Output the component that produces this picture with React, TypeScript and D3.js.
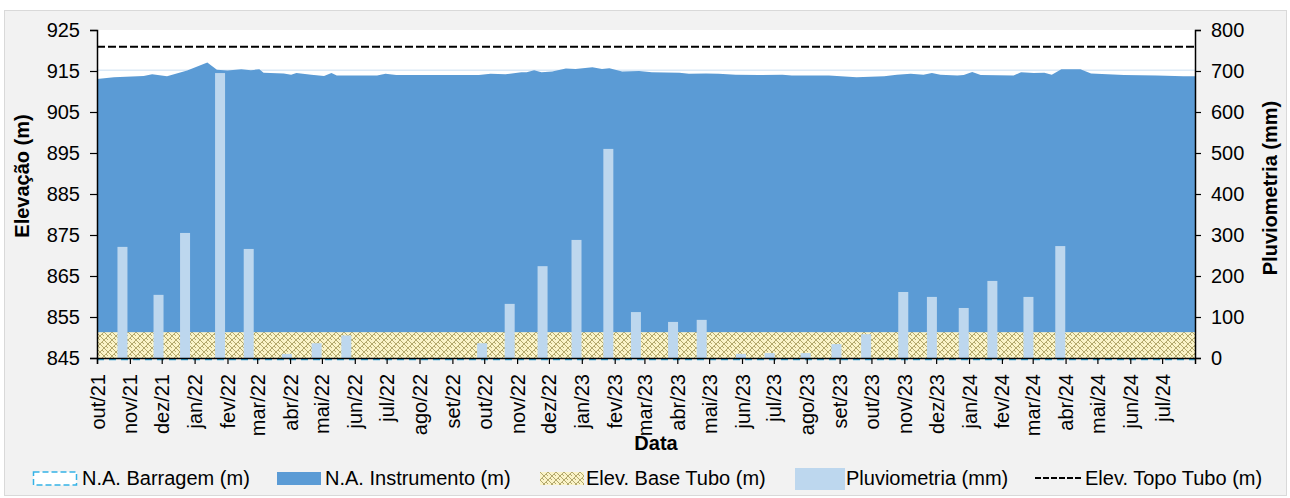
import { useEffect, useRef } from "react";
import * as d3 from "d3";

// N.A. Instrumento readings (m)
const naDates = [
  "2021-10-01", "2021-10-17", "2021-11-14", "2021-11-22", "2021-12-06", "2021-12-25",
  "2022-01-13", "2022-01-22", "2022-02-01", "2022-02-14", "2022-02-23", "2022-03-03",
  "2022-03-07", "2022-03-26", "2022-04-02", "2022-04-07", "2022-04-21", "2022-05-03",
  "2022-05-10", "2022-05-15", "2022-06-22", "2022-06-30", "2022-07-10", "2022-08-08",
  "2022-09-07", "2022-09-26", "2022-10-07", "2022-10-21", "2022-11-05", "2022-11-10",
  "2022-11-17", "2022-11-24", "2022-12-04", "2022-12-17", "2022-12-26", "2023-01-11",
  "2023-01-20", "2023-01-27", "2023-02-08", "2023-02-24", "2023-03-08", "2023-04-03",
  "2023-04-12", "2023-04-28", "2023-05-10", "2023-05-26", "2023-06-17", "2023-07-09",
  "2023-07-18", "2023-08-22", "2023-09-17", "2023-10-13", "2023-10-25", "2023-11-07",
  "2023-11-19", "2023-11-27", "2023-12-05", "2023-12-21", "2023-12-27", "2024-01-04",
  "2024-01-12", "2024-02-12", "2024-02-19", "2024-03-02", "2024-03-12", "2024-03-19",
  "2024-03-28", "2024-04-15", "2024-04-25", "2024-05-26", "2024-06-26", "2024-07-21",
  "2024-08-01",
];
const naValues = [
  913.05, 913.5, 913.8, 914.2, 913.7, 915.1,
  917.1, 915.3, 915.1, 915.4, 915.2, 915.4,
  914.6, 914.4, 914.1, 914.5, 914.1, 913.8,
  914.5, 913.9, 913.9, 914.3, 914.0, 914.0,
  914.0, 914.0, 914.3, 914.2, 914.7, 914.7,
  915.2, 914.7, 914.9, 915.6, 915.5, 915.9,
  915.5, 915.65, 914.9, 915.0, 914.7, 914.6,
  914.3, 914.4, 914.3, 914.1, 914.0, 914.1,
  913.9, 913.9, 913.5, 913.7, 914.1, 914.3,
  914.1, 914.5, 914.1, 913.9, 914.0, 914.75,
  914.0, 913.9, 914.7, 914.5, 914.6, 914.1,
  915.4, 915.4, 914.4, 914.0, 913.9, 913.7,
  913.7,
];

// Pluviometria (mm)
const rainDates = [
  "2021-10-25", "2021-11-28", "2021-12-23", "2022-01-25", "2022-02-21", "2022-03-29",
  "2022-04-26", "2022-05-24", "2022-09-29", "2022-10-25", "2022-11-25", "2022-12-27",
  "2023-01-26", "2023-02-21", "2023-03-28", "2023-04-24", "2023-05-31", "2023-06-27",
  "2023-07-31", "2023-08-29", "2023-09-26", "2023-10-31", "2023-11-27", "2023-12-27",
  "2024-01-23", "2024-02-26", "2024-03-27",
];
const rainValues = [
  271, 154, 305, 695, 266, 10,
  36, 55, 36, 132, 224, 288,
  510, 112, 88, 93, 10, 12,
  12, 34, 58, 161, 149, 122,
  188, 149, 273,
];

const naBarragem = [915.2];
const elevBaseTubo = [851.3];
const elevTopoTubo = [920.9];

const leftTicks = [845, 855, 865, 875, 885, 895, 905, 915, 925];
const rightTicks = [0, 100, 200, 300, 400, 500, 600, 700, 800];
const monthNames = ["jan", "fev", "mar", "abr", "mai", "jun", "jul", "ago", "set", "out", "nov", "dez"];

const FONT = "'Liberation Sans', Arial, sans-serif";

export default function App() {
  const svgRef = useRef<SVGSVGElement | null>(null);

  useEffect(() => {
    if (!svgRef.current) return;
    const svg = d3.select(svgRef.current);
    svg.selectAll("*").remove();

    const left = 97, right = 1195, top = 30, bottom = 358;
    const parse = d3.timeParse("%Y-%m-%d");

    const x = d3.scaleTime()
      .domain([new Date(2021, 9, 1), new Date(2024, 7, 1)])
      .range([left, right]);
    const y = d3.scaleLinear().domain([845, 925]).range([bottom, top]);
    const y2 = d3.scaleLinear().domain([0, 800]).range([bottom, top]);

    // weave pattern for the base of the tube
    const defs = svg.append("defs");
    const pat = defs.append("pattern")
      .attr("id", "weave")
      .attr("patternUnits", "userSpaceOnUse")
      .attr("width", 8).attr("height", 8);
    pat.append("rect").attr("width", 8).attr("height", 8).attr("fill", "#faf3c8");
    pat.append("path")
      .attr("d", "M0,4 L4,0 M4,8 L8,4 M0,4 L4,8 M4,0 L8,4 M2,2 L4,4 M6,6 L8,8")
      .attr("stroke", "#b3a86c").attr("stroke-width", 1).attr("fill", "none");

    // chart background
    svg.append("rect").attr("x", 4.5).attr("y", 10.5).attr("width", 1282).attr("height", 485)
      .attr("fill", "#f2f2f2").attr("stroke", "#d9d9d9");

    // plot area
    svg.append("rect").attr("x", left).attr("y", top).attr("width", right - left).attr("height", bottom - top)
      .attr("fill", "#ffffff");

    // N.A. Barragem top edge
    svg.append("line")
      .attr("x1", left).attr("x2", right)
      .attr("y1", y(naBarragem[0])).attr("y2", y(naBarragem[0]))
      .attr("stroke", "#dce9f6").attr("stroke-width", 1.5);

    // N.A. Instrumento
    const naData = naDates.map((d, i) => ({ date: parse(d) as Date, v: naValues[i] }));
    const area = d3.area<{ date: Date; v: number }>()
      .x((d) => x(d.date))
      .y0(bottom)
      .y1((d) => y(d.v));
    svg.append("path").datum(naData).attr("d", area).attr("fill", "#5b9bd5");

    // Elev. Base Tubo
    svg.append("rect")
      .attr("x", left).attr("y", y(elevBaseTubo[0]))
      .attr("width", right - left).attr("height", bottom - y(elevBaseTubo[0]))
      .attr("fill", "url(#weave)");

    // Pluviometria bars
    const barW = 10;
    svg.append("g").selectAll("rect")
      .data(rainDates.map((d, i) => ({ date: parse(d) as Date, v: rainValues[i] })))
      .join("rect")
      .attr("x", (d) => x(d.date) - barW / 2)
      .attr("y", (d) => y2(d.v))
      .attr("width", barW)
      .attr("height", (d) => bottom - y2(d.v))
      .attr("fill", "#bdd7ee");

    // Elev. Topo Tubo
    svg.append("line")
      .attr("x1", left).attr("x2", right)
      .attr("y1", y(elevTopoTubo[0])).attr("y2", y(elevTopoTubo[0]))
      .attr("stroke", "#000").attr("stroke-width", 2).attr("stroke-dasharray", "8 3");

    // N.A. Barragem bottom dashed edge
    svg.append("line")
      .attr("x1", left).attr("x2", right)
      .attr("y1", bottom + 1.5).attr("y2", bottom + 1.5)
      .attr("stroke", "#2ea3d8").attr("stroke-width", 1.5).attr("stroke-dasharray", "7 5");

    // axes
    const fmt = (d: Date) => `${monthNames[d.getMonth()]}/${String(d.getFullYear()).slice(2)}`;
    const months = d3.timeMonth.range(new Date(2021, 9, 1), new Date(2024, 7, 1));
    const xAxis = d3.axisBottom<Date>(x).tickValues(months).tickSize(6).tickFormat(fmt);
    const gx = svg.append("g").attr("transform", `translate(0,${bottom})`).call(xAxis);
    gx.select(".domain").attr("stroke", "#000").attr("stroke-width", 1.5);
    gx.selectAll(".tick line").attr("stroke", "#000").attr("stroke-width", 1.2);
    gx.selectAll<SVGTextElement, Date>(".tick text")
      .attr("font-family", FONT).attr("font-size", 20).attr("fill", "#000")
      .attr("text-anchor", "end")
      .attr("transform", "rotate(-90)")
      .attr("x", -16).attr("y", 0).attr("dy", "0.35em");

    const gl = svg.append("g").attr("transform", `translate(${left},0)`)
      .call(d3.axisLeft(y).tickValues(leftTicks).tickSize(7).tickPadding(10));
    const gr = svg.append("g").attr("transform", `translate(${right},0)`)
      .call(d3.axisRight(y2).tickValues(rightTicks).tickSize(6).tickPadding(10));
    [gl, gr].forEach((g) => {
      g.select(".domain").attr("stroke", "#000").attr("stroke-width", 1.5);
      g.selectAll(".tick line").attr("stroke", "#000").attr("stroke-width", 1.2);
      g.selectAll(".tick text").attr("font-family", FONT).attr("font-size", 20).attr("fill", "#000");
    });

    // titles
    svg.append("text").attr("x", 656).attr("y", 450).attr("text-anchor", "middle")
      .attr("font-family", FONT).attr("font-weight", "bold").attr("font-size", 20).text("Data");
    svg.append("text").attr("transform", `translate(29,${(top + bottom) / 2 - 18}) rotate(-90)`)
      .attr("text-anchor", "middle")
      .attr("font-family", FONT).attr("font-weight", "bold").attr("font-size", 20).text("Elevação (m)");
    svg.append("text").attr("transform", `translate(1277,${(top + bottom) / 2 - 6}) rotate(-90)`)
      .attr("text-anchor", "middle")
      .attr("font-family", FONT).attr("font-weight", "bold").attr("font-size", 20).text("Pluviometria (mm)");

    // legend
    const ly = 478;
    const lg = svg.append("g").attr("font-family", FONT).attr("font-size", 20);
    lg.append("rect").attr("x", 33.5).attr("y", ly - 6).attr("width", 43).attr("height", 13)
      .attr("fill", "#fff").attr("stroke", "#35b2e6").attr("stroke-width", 1.5).attr("stroke-dasharray", "6 3");
    lg.append("text").attr("x", 82).attr("y", ly).attr("dy", "0.35em").text("N.A. Barragem (m)");
    lg.append("rect").attr("x", 277).attr("y", ly - 6).attr("width", 44).attr("height", 13).attr("fill", "#5b9bd5");
    lg.append("text").attr("x", 325).attr("y", ly).attr("dy", "0.35em").text("N.A. Instrumento (m)");
    lg.append("rect").attr("x", 540).attr("y", ly - 6).attr("width", 44).attr("height", 13).attr("fill", "url(#weave)");
    lg.append("text").attr("x", 586).attr("y", ly).attr("dy", "0.35em").text("Elev. Base Tubo (m)");
    lg.append("rect").attr("x", 795).attr("y", ly - 10).attr("width", 50).attr("height", 22).attr("fill", "#bdd7ee");
    lg.append("text").attr("x", 846).attr("y", ly).attr("dy", "0.35em").text("Pluviometria (mm)");
    lg.append("line").attr("x1", 1035).attr("x2", 1083).attr("y1", ly).attr("y2", ly)
      .attr("stroke", "#000").attr("stroke-width", 2).attr("stroke-dasharray", "6 2");
    lg.append("text").attr("x", 1085).attr("y", ly).attr("dy", "0.35em").text("Elev. Topo Tubo (m)");
  }, []);

  return (
    <svg
      ref={svgRef}
      width={1290}
      height={498}
      style={{ position: "absolute", left: 0, top: 0, display: "block", background: "#fff" }}
    />
  );
}
